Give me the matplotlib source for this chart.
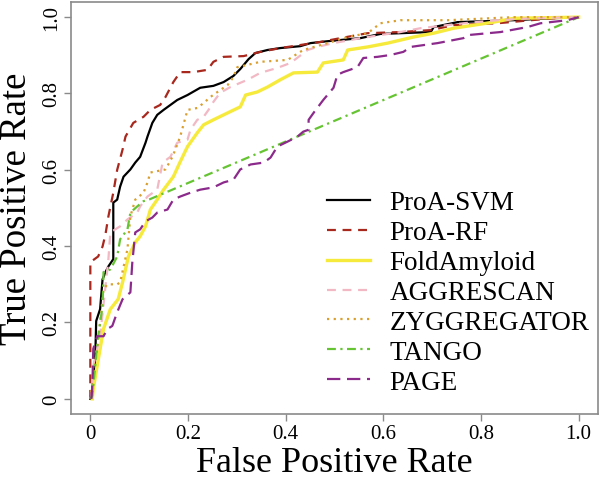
import matplotlib
matplotlib.use('Agg')
import matplotlib.pyplot as plt

plt.rcParams['font.family'] = ['Liberation Serif', 'DejaVu Serif']

# ROC curves (FPR, TPR)
svm_fpr = [0, 0.004, 0.010, 0.012, 0.020, 0.025, 0.031, 0.037, 0.047, 0.047, 0.055, 0.061, 0.068,
           0.082, 0.092, 0.102, 0.113, 0.117, 0.127, 0.137, 0.150, 0.164, 0.178, 0.199, 0.225,
           0.252, 0.273, 0.293, 0.307, 0.324, 0.338, 0.363, 0.389, 0.430, 0.451, 0.486, 0.553,
           0.594, 0.697, 0.703, 0.752, 0.867, 0.943, 1.0]
svm_tpr = [0, 0.026, 0.104, 0.204, 0.235, 0.313, 0.332, 0.347, 0.366, 0.514, 0.522, 0.556, 0.582,
           0.601, 0.619, 0.634, 0.671, 0.687, 0.723, 0.744, 0.757, 0.770, 0.783, 0.796, 0.815,
           0.820, 0.830, 0.846, 0.864, 0.890, 0.906, 0.914, 0.919, 0.924, 0.932, 0.937, 0.945,
           0.956, 0.961, 0.974, 0.987, 0.992, 0.997, 1.0]

rf_fpr = [0, 0, 0.016, 0.025, 0.031, 0.037, 0.047, 0.055, 0.066, 0.072, 0.088, 0.109, 0.123,
          0.143, 0.154, 0.170, 0.184, 0.211, 0.240, 0.252, 0.273, 0.314, 0.348, 0.389, 0.430,
          0.471, 0.512, 0.568, 0.635, 0.697, 0.744, 0.834, 0.902, 0.949, 1.0]
rf_tpr = [0, 0.358, 0.373, 0.399, 0.431, 0.478, 0.540, 0.600, 0.653, 0.687, 0.723, 0.739, 0.757,
          0.770, 0.791, 0.830, 0.856, 0.856, 0.862, 0.883, 0.896, 0.898, 0.909, 0.919, 0.927,
          0.935, 0.945, 0.958, 0.961, 0.966, 0.979, 0.984, 0.992, 0.997, 1.0]

fold_fpr = [0.004, 0.006, 0.014, 0.027, 0.041, 0.057, 0.066, 0.078, 0.092, 0.102, 0.113, 0.123,
            0.137, 0.150, 0.170, 0.184, 0.199, 0.219, 0.232, 0.252, 0.281, 0.307, 0.318, 0.342,
            0.363, 0.389, 0.416, 0.465, 0.477, 0.518, 0.527, 0.568, 0.609, 0.662, 0.703, 0.744,
            0.785, 0.826, 0.867, 1.0]
fold_tpr = [0, 0.026, 0.086, 0.183, 0.235, 0.261, 0.305, 0.373, 0.410, 0.426, 0.452, 0.496,
            0.522, 0.548, 0.582, 0.621, 0.661, 0.697, 0.718, 0.731, 0.749, 0.765, 0.796, 0.804,
            0.817, 0.836, 0.854, 0.856, 0.880, 0.888, 0.914, 0.922, 0.932, 0.948, 0.958, 0.971,
            0.979, 0.987, 0.997, 1.0]

aggr_fpr = [0.002, 0.006, 0.020, 0.037, 0.041, 0.061, 0.076, 0.096, 0.102, 0.117, 0.137, 0.148,
            0.164, 0.178, 0.199, 0.205, 0.219, 0.232, 0.242, 0.252, 0.266, 0.287, 0.322, 0.348,
            0.383, 0.410, 0.445, 0.465, 0.498, 0.553, 0.635, 0.676, 0.764, 0.834, 0.902, 1.0]
aggr_tpr = [0, 0.086, 0.164, 0.366, 0.436, 0.452, 0.470, 0.488, 0.504, 0.530, 0.548, 0.619,
            0.634, 0.671, 0.679, 0.705, 0.731, 0.739, 0.757, 0.778, 0.802, 0.817, 0.836, 0.854,
            0.867, 0.880, 0.914, 0.922, 0.932, 0.945, 0.961, 0.971, 0.984, 0.992, 0.997, 1.0]

zyg_fpr = [0, 0.010, 0.016, 0.027, 0.035, 0.055, 0.061, 0.076, 0.082, 0.092, 0.109, 0.117, 0.123,
           0.154, 0.168, 0.174, 0.184, 0.199, 0.219, 0.232, 0.246, 0.266, 0.281, 0.293, 0.301,
           0.322, 0.348, 0.404, 0.436, 0.486, 0.527, 0.568, 0.594, 0.635, 0.732, 0.867, 1.0]
zyg_tpr = [0, 0.097, 0.149, 0.287, 0.300, 0.300, 0.305, 0.392, 0.478, 0.522, 0.540, 0.567, 0.593,
           0.601, 0.634, 0.653, 0.687, 0.757, 0.762, 0.775, 0.791, 0.809, 0.822, 0.843, 0.869,
           0.875, 0.883, 0.888, 0.914, 0.932, 0.948, 0.958, 0.984, 0.992, 0.992, 1.0, 1.0]

tango_fpr = [0, 0.004, 0.010, 0.016, 0.025, 0.027, 0.041, 0.055, 0.061, 0.076, 0.082, 0.096,
             0.109, 0.120, 1.0]
tango_tpr = [0, 0.008, 0.086, 0.164, 0.243, 0.332, 0.339, 0.373, 0.418, 0.444, 0.488, 0.504,
             0.518, 0.522, 1.0]

page_fpr = [0.002, 0.004, 0.006, 0.014, 0.027, 0.035, 0.045, 0.055, 0.066, 0.082, 0.086, 0.092,
            0.102, 0.113, 0.127, 0.137, 0.158, 0.170, 0.184, 0.205, 0.225, 0.252, 0.273, 0.293,
            0.307, 0.328, 0.355, 0.369, 0.383, 0.404, 0.424, 0.436, 0.447, 0.447, 0.457, 0.477,
            0.498, 0.506, 0.518, 0.547, 0.559, 0.588, 0.615, 0.641, 0.656, 0.711, 0.764, 0.773,
            0.840, 0.895, 0.922, 0.977, 1.0]
page_tpr = [0, 0.026, 0.131, 0.164, 0.164, 0.183, 0.191, 0.227, 0.261, 0.279, 0.358, 0.436,
            0.444, 0.465, 0.475, 0.488, 0.496, 0.522, 0.530, 0.540, 0.548, 0.554, 0.567, 0.574,
            0.601, 0.614, 0.619, 0.632, 0.661, 0.674, 0.687, 0.700, 0.705, 0.731, 0.749, 0.783,
            0.815, 0.849, 0.856, 0.869, 0.893, 0.896, 0.901, 0.909, 0.922, 0.932, 0.945, 0.953,
            0.961, 0.974, 0.984, 0.992, 1.0]

ticks = [0, 0.2, 0.4, 0.6, 0.8, 1.0]
tick_labels = ['0', '0.2', '0.4', '0.6', '0.8', '1.0']

fig = plt.figure(figsize=(6.0, 4.81), dpi=100)
ax = fig.add_axes([0.118, 0.137, 0.879, 0.857])

ax.plot(svm_fpr, svm_tpr, color='black', lw=1.6, label='ProA-SVM')
ax.plot(rf_fpr, rf_tpr, color='#A8281E', lw=1.6, dashes=(4, 3), label='ProA-RF')
ax.plot(fold_fpr, fold_tpr, color='#F6EA3C', lw=2.4, label='FoldAmyloid')
ax.plot(aggr_fpr, aggr_tpr, color='#F2B8C4', lw=1.6, dashes=(4, 3), label='AGGRESCAN')
ax.plot(zyg_fpr, zyg_tpr, color='#D9A030', lw=1.6, dashes=(1, 2), label='ZYGGREGATOR')
ax.plot(tango_fpr, tango_tpr, color='#66C433', lw=1.6, dashes=(4, 2, 1, 2), label='TANGO')
ax.plot(page_fpr, page_tpr, color='#8B2A8B', lw=1.6, dashes=(6, 3), label='PAGE')

ax.set_xlim(-0.04, 1.04)
ax.set_ylim(-0.04, 1.04)
ax.set_xticks(ticks)
ax.set_xticklabels(tick_labels)
ax.set_yticks(ticks)
ax.set_yticklabels(tick_labels, rotation=90, va='center')

for s in ax.spines.values():
    s.set_color('#8a8a8a')
    s.set_linewidth(1.2)
ax.tick_params(direction='out', length=5, width=1, color='#8a8a8a', labelsize=15, pad=2)

ax.set_xlabel('False Positive Rate', fontsize=26, va='baseline')
ax.xaxis.set_label_coords(0.5, -0.138)
ax.set_ylabel('True Positive Rate', fontsize=26.5, va='baseline')
ax.yaxis.set_label_coords(-0.085, 0.5)

ax.legend(loc='upper left', bbox_to_anchor=(0.545, 0.602), bbox_transform=fig.transFigure,
          frameon=False, fontsize=19.5, handlelength=1.6, handletextpad=0.7,
          labelspacing=0.18, borderpad=0, borderaxespad=0)

plt.savefig('out.png', dpi=100)
